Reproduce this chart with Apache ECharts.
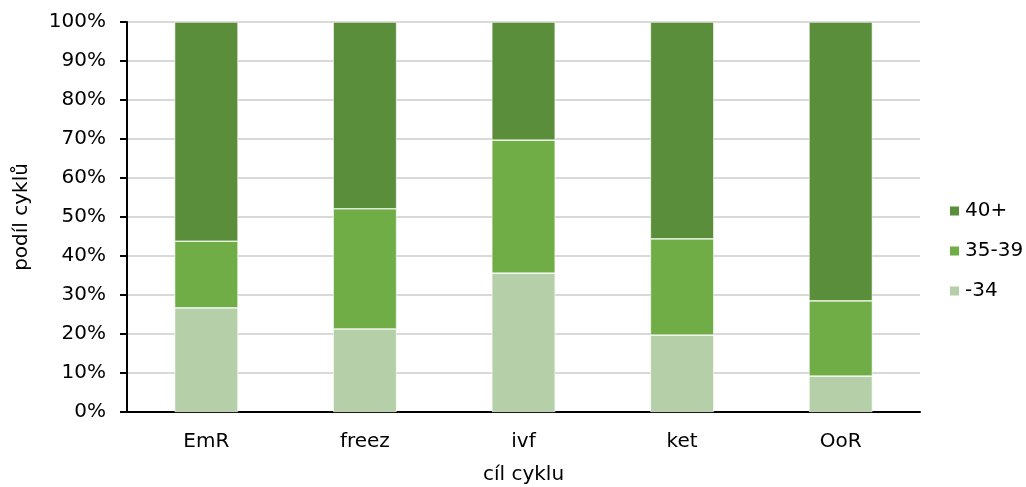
<!DOCTYPE html>
<html><head><meta charset="utf-8">
<script src="https://cdn.jsdelivr.net/npm/echarts@6/dist/echarts.min.js"></script>
<style>html,body{margin:0;padding:0;background:#fff}#c{width:1026px;height:487px}</style>
</head><body><div id="c"></div>
<script>
const categories = ['EmR', 'freez', 'ivf', 'ket', 'OoR'];
const seriesNames = ['-34', '35-39', '40+'];
const valsU34 = [26.7, 21.3, 35.6, 19.7, 9.2];
const vals3539 = [17.1, 30.8, 34.1, 24.7, 19.3];
const vals40 = [56.2, 47.9, 30.3, 55.6, 71.5];
const yTicks = [0, 10, 20, 30, 40, 50, 60, 70, 80, 90, 100];
const colors = ['#b5cfa8', '#70ad47', '#5b8e3a'];
const font = 'DejaVu Sans';
const fs = 20;
const chart = echarts.init(document.getElementById('c'));
const mk = (name, data, i) => ({
  name, type: 'bar', stack: 's', data, barWidth: '40%',
  itemStyle: { color: colors[i], borderColor: '#fff', borderWidth: 0.6 }
});
chart.setOption({
  animation: false,
  textStyle: { fontFamily: font },
  grid: { left: 127, right: 106, top: 22, bottom: 75, containLabel: false, outerBoundsMode: 'none' },
  legend: {
    orient: 'vertical', left: 943, top: 196, itemGap: 20,
    itemWidth: 11, itemHeight: 11, icon: 'rect',
    data: ['40+', '35-39', '-34'],
    textStyle: { fontFamily: font, fontSize: fs, lineHeight: 20, color: '#000', padding: [0,0,0,0] }
  },
  xAxis: {
    type: 'category', data: categories,
    name: 'cíl cyklu', nameLocation: 'middle', nameGap: 53,
    nameTextStyle: { fontFamily: font, fontSize: fs, color: '#000' },
    axisLine: { lineStyle: { color: '#000', width: 2 } },
    axisTick: { show: false },
    axisLabel: { fontFamily: font, fontSize: fs, color: '#000', margin: 20 }
  },
  yAxis: {
    type: 'value', min: 0, max: 100, interval: 10,
    name: 'podíl cyklů', nameLocation: 'middle', nameGap: 95,
    nameTextStyle: { fontFamily: font, fontSize: fs, color: '#000' },
    axisLine: { show: true, lineStyle: { color: '#000', width: 2 } },
    axisTick: { show: true, length: 7, lineStyle: { color: '#000', width: 2 } },
    axisLabel: { fontFamily: font, fontSize: fs, color: '#000', margin: 21,
      formatter: v => yTicks.includes(v) ? v + '%' : '' },
    splitLine: { lineStyle: { color: '#d9d9d9', width: 2 } }
  },
  series: [mk(seriesNames[0], valsU34, 0), mk(seriesNames[1], vals3539, 1), mk(seriesNames[2], vals40, 2)]
});
</script></body></html>
